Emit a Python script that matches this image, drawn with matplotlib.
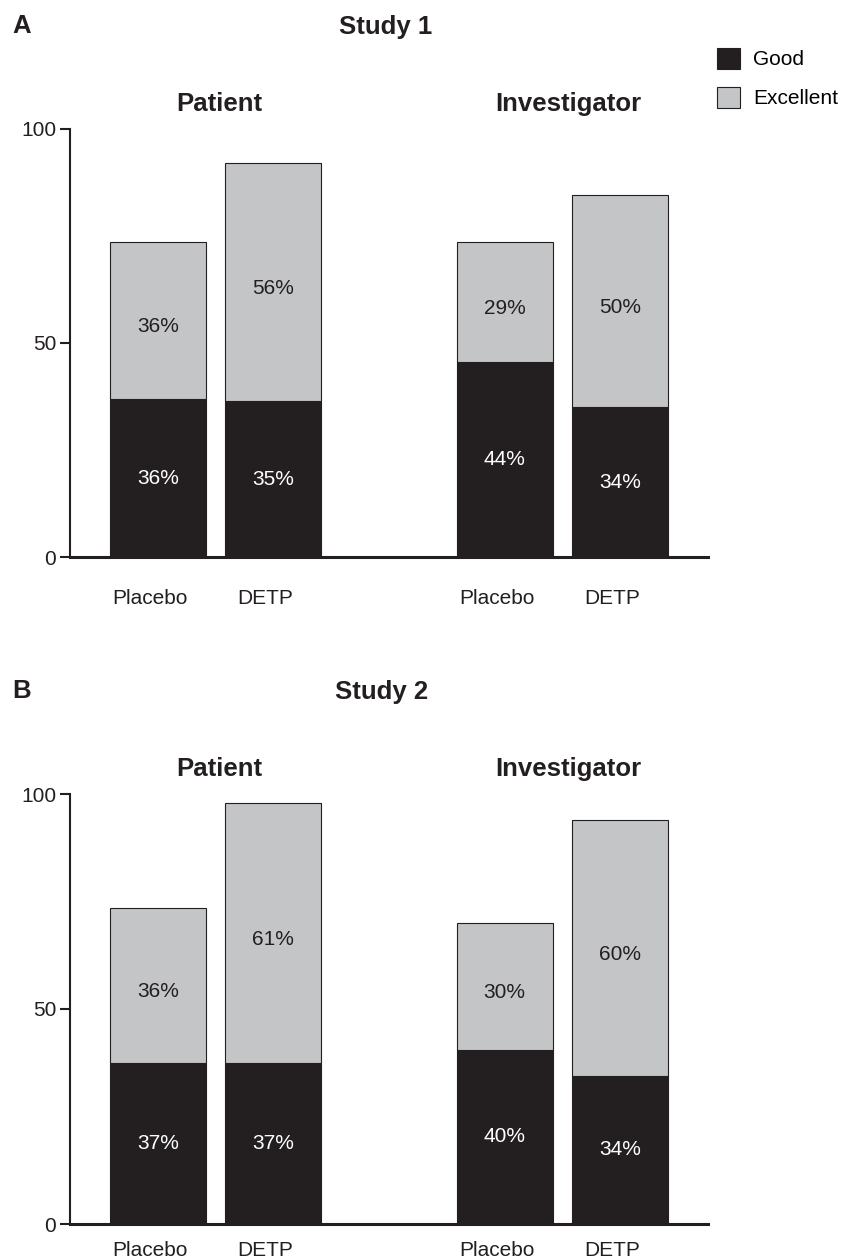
import matplotlib.pyplot as plt
from matplotlib.patches import Patch

plt.rcParams['font.family'] = ['Liberation Sans', 'DejaVu Sans']

groups = ["Patient", "Investigator"]
arms = ["Placebo", "DETP", "Placebo", "DETP"]

# Study 1 (panel A): bar heights, labels as printed
good_1 = [37, 36.5, 45.5, 35]
total_1 = [73.5, 92, 73.5, 84.5]
good_lbl_1 = ["36%", "35%", "44%", "34%"]
exc_lbl_1 = ["36%", "56%", "29%", "50%"]

# Study 2 (panel B)
good_2 = [37.5, 37.5, 40.5, 34.5]
total_2 = [73.5, 98, 70, 94]
good_lbl_2 = ["37%", "37%", "40%", "34%"]
exc_lbl_2 = ["36%", "61%", "30%", "60%"]

dark = '#231f20'
grey = '#c4c5c7'
W, H = 841, 1259
pos = [0, 1, 3, 4]


def panel(ax, good, total, glab, elab, xpad):
    exc = [t - g for t, g in zip(total, good)]
    ax.bar(pos, good, width=0.83, color=dark, edgecolor=dark, linewidth=0.8)
    ax.bar(pos, exc, bottom=good, width=0.83, color=grey, edgecolor=dark, linewidth=0.8)
    for p, g, t, gl, el in zip(pos, good, total, glab, elab):
        ax.text(p, g / 2, gl, ha='center', va='center', color='white', fontsize=15)
        ax.text(p, (g + t) / 2 - 1.5, el, ha='center', va='center', color=dark, fontsize=15)
    ax.set_xlim(-0.76, 4.76)
    ax.set_ylim(0, 100)
    ax.set_yticks([0, 50, 100])
    ax.set_xticks([p - 0.07 for p in pos])
    ax.set_xticklabels(arms, fontsize=15, color=dark)
    ax.tick_params(axis='x', length=0, pad=xpad)
    ax.tick_params(axis='y', length=7, width=1.5, pad=3, labelsize=15, colors=dark)
    for s in ['top', 'right']:
        ax.spines[s].set_visible(False)
    ax.spines['left'].set_linewidth(1.5)
    ax.spines['bottom'].set_linewidth(2.2)
    ax.spines['left'].set_color(dark)
    ax.spines['bottom'].set_color(dark)
    ax.text(0.53, 103, groups[0], ha='center', va='bottom', fontsize=18.5, fontweight='bold', color=dark)
    ax.text(3.55, 103, groups[1], ha='center', va='bottom', fontsize=18.5, fontweight='bold', color=dark)


fig = plt.figure(figsize=(W / 100, H / 100), dpi=100)

axA = fig.add_axes([70 / W, (H - 557.3) / H, 638 / W, 428.6 / H])
panel(axA, good_1, total_1, good_lbl_1, exc_lbl_1, 23)
axB = fig.add_axes([70 / W, (H - 1224) / H, 638 / W, 430 / H])
panel(axB, good_2, total_2, good_lbl_2, exc_lbl_2, 12)

fig.text(12 / W, 1 - 26 / H, "A", fontsize=18.5, fontweight='bold', va='center', color=dark)
fig.text(386 / W, 1 - 27 / H, "Study 1", fontsize=18.5, fontweight='bold', ha='center', va='center', color=dark)
fig.text(12 / W, 1 - 691 / H, "B", fontsize=18.5, fontweight='bold', va='center', color=dark)
fig.text(382 / W, 1 - 692 / H, "Study 2", fontsize=18.5, fontweight='bold', ha='center', va='center', color=dark)

handles = [Patch(facecolor=dark, edgecolor=dark, linewidth=0.8, label='Good'),
           Patch(facecolor=grey, edgecolor=dark, linewidth=0.8, label='Excellent')]
fig.legend(handles=handles, loc='upper left', bbox_to_anchor=(717 / W, 1 - 48 / H),
           frameon=False, fontsize=15, borderpad=0, handlelength=1.1, handleheight=1.15,
           handletextpad=0.65, labelspacing=0.85, borderaxespad=0)

fig.savefig('out.png', dpi=100)
